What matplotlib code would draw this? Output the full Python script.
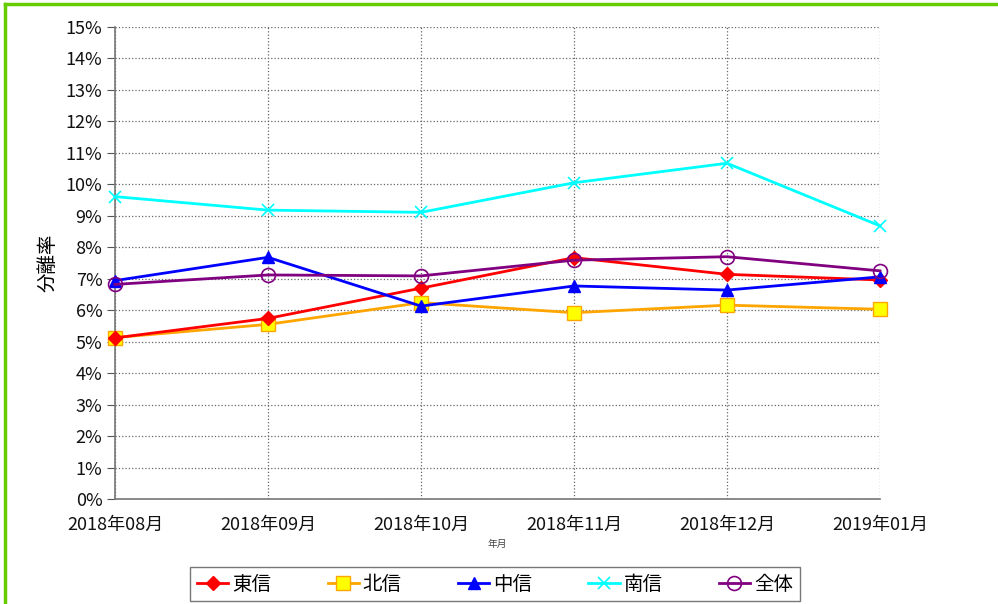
import matplotlib
matplotlib.use("Agg")
import matplotlib.pyplot as plt
from matplotlib.ticker import PercentFormatter
from matplotlib.lines import Line2D

plt.rcParams['font.family'] = ['Noto Sans CJK JP', 'DejaVu Sans']

months = ['2018年08月', '2018年09月', '2018年10月', '2018年11月', '2018年12月', '2019年01月']
toshin = [5.12, 5.74, 6.70, 7.67, 7.14, 6.96]
hokushin = [5.13, 5.55, 6.24, 5.92, 6.16, 6.03]
chushin = [6.94, 7.68, 6.13, 6.77, 6.64, 7.06]
nanshin = [9.61, 9.18, 9.11, 10.05, 10.67, 8.68]
zentai = [6.82, 7.12, 7.09, 7.59, 7.70, 7.25]

fig = plt.figure(figsize=(9.98, 6.04), dpi=100)
ax = fig.add_axes([115/998, 105/604, 765/998, 472/604])

x = list(range(len(months)))
ax.plot(x, toshin, color='red', lw=2, marker='D', ms=7, mfc='red', mec='red', label='東信', clip_on=False, zorder=5)
ax.plot(x, hokushin, color='orange', lw=2, marker='s', ms=10, mfc='yellow', mec='orange', label='北信', clip_on=False, zorder=4)
ax.plot(x, chushin, color='blue', lw=2, marker='^', ms=9, mfc='blue', mec='blue', label='中信', clip_on=False, zorder=6)
ax.plot(x, nanshin, color='cyan', lw=2, marker='x', ms=9, mew=1.2, label='南信', clip_on=False, zorder=3)
ax.plot(x, zentai, color='purple', lw=2, marker='o', ms=10, mfc='none', mec='purple', mew=1.2, label='全体', clip_on=False, zorder=7)

ax.set_xlim(0, 5)
ax.set_ylim(0, 15)
ax.set_yticks(range(0, 16))
ax.yaxis.set_major_formatter(PercentFormatter(decimals=0))
ax.set_xticks(x)
ax.set_xticklabels(months)
ax.tick_params(axis='both', labelsize=13, colors='#111111')
ax.tick_params(axis='y', length=6, color='#555555', pad=3)
ax.tick_params(axis='x', length=0, pad=12)
ax.grid(True, color='#666666', ls=':', lw=0.9)
for s in ['top', 'right']:
    ax.spines[s].set_visible(False)
for s in ['left', 'bottom']:
    ax.spines[s].set_color('#777777')
    ax.spines[s].set_linewidth(1.2)
ax.set_ylabel('分離率', fontsize=14, labelpad=5)
ax.set_xlabel('年月', fontsize=7, labelpad=4, color='#444444')

leg = ax.legend(loc='center', bbox_to_anchor=(495/998, 20/604), bbox_transform=fig.transFigure,
                ncol=5, fontsize=14, frameon=True, fancybox=False, edgecolor='#555555',
                handlelength=1.6, columnspacing=2.9, handletextpad=0.2, borderpad=0.35,
                borderaxespad=0)
leg.get_frame().set_linewidth(1.0)

fig.add_artist(Line2D([5/998, 5/998], [0, 1 - 4/604], transform=fig.transFigure, color='#66cc00', lw=2.5))
fig.add_artist(Line2D([5/998, 1], [1 - 4/604, 1 - 4/604], transform=fig.transFigure, color='#66cc00', lw=2.5))

fig.savefig('out.png', dpi=100)
